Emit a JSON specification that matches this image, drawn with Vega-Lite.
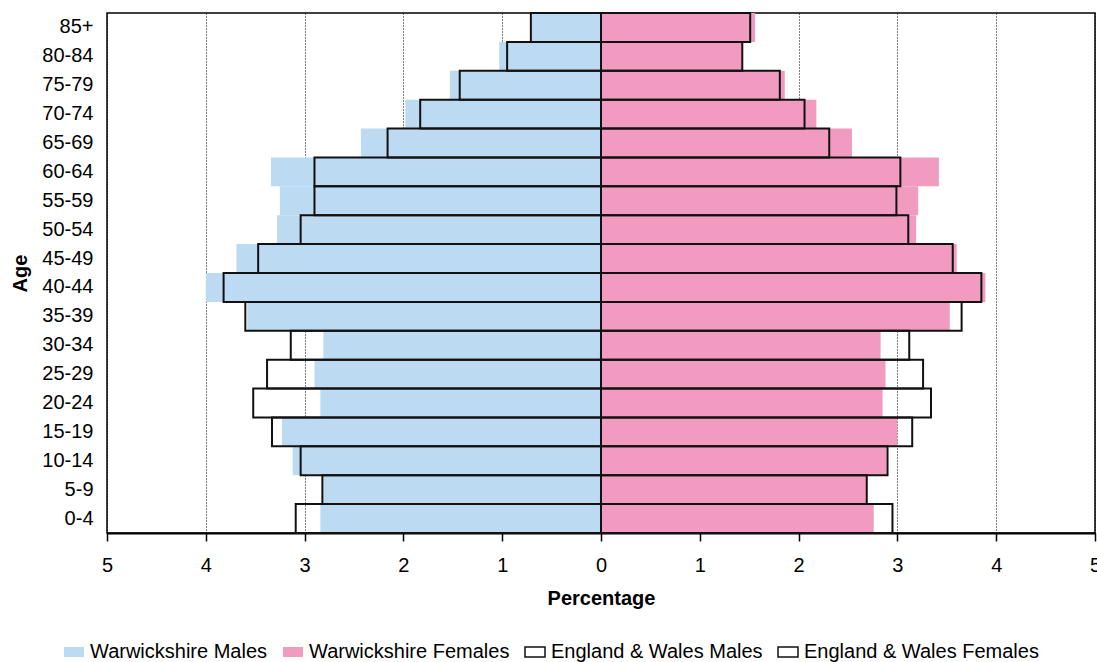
{
  "$schema": "https://vega.github.io/schema/vega-lite/v6.json",
  "autosize": {"type": "none"},
  "width": 988,
  "height": 520,
  "padding": {"left": 107, "top": 13, "right": 2, "bottom": 129},
  "background": "white",
  "config": {
    "view": {"stroke": "black", "strokeWidth": 1.5},
    "font": "Liberation Sans",
    "axis": {"labelFont": "Liberation Sans", "titleFont": "Liberation Sans", "labelFontSize": 20, "titleFontSize": 20, "labelColor": "black", "titleColor": "black", "titleFontWeight": "bold"},
    "legend": {"labelFont": "Liberation Sans", "labelFontSize": 20, "labelColor": "black", "labelLimit": 0}
  },
  "data": {
    "values": [
      {"age": "85+", "series": "Warwickshire Males", "value": -0.71},
      {"age": "80-84", "series": "Warwickshire Males", "value": -1.03},
      {"age": "75-79", "series": "Warwickshire Males", "value": -1.53},
      {"age": "70-74", "series": "Warwickshire Males", "value": -1.98},
      {"age": "65-69", "series": "Warwickshire Males", "value": -2.43},
      {"age": "60-64", "series": "Warwickshire Males", "value": -3.34},
      {"age": "55-59", "series": "Warwickshire Males", "value": -3.25},
      {"age": "50-54", "series": "Warwickshire Males", "value": -3.28},
      {"age": "45-49", "series": "Warwickshire Males", "value": -3.69},
      {"age": "40-44", "series": "Warwickshire Males", "value": -4.0},
      {"age": "35-39", "series": "Warwickshire Males", "value": -3.58},
      {"age": "30-34", "series": "Warwickshire Males", "value": -2.81},
      {"age": "25-29", "series": "Warwickshire Males", "value": -2.9},
      {"age": "20-24", "series": "Warwickshire Males", "value": -2.84},
      {"age": "15-19", "series": "Warwickshire Males", "value": -3.23},
      {"age": "10-14", "series": "Warwickshire Males", "value": -3.12},
      {"age": "5-9", "series": "Warwickshire Males", "value": -2.81},
      {"age": "0-4", "series": "Warwickshire Males", "value": -2.84},
      {"age": "85+", "series": "Warwickshire Females", "value": 1.56},
      {"age": "80-84", "series": "Warwickshire Females", "value": 1.43},
      {"age": "75-79", "series": "Warwickshire Females", "value": 1.86},
      {"age": "70-74", "series": "Warwickshire Females", "value": 2.18},
      {"age": "65-69", "series": "Warwickshire Females", "value": 2.54},
      {"age": "60-64", "series": "Warwickshire Females", "value": 3.42},
      {"age": "55-59", "series": "Warwickshire Females", "value": 3.21},
      {"age": "50-54", "series": "Warwickshire Females", "value": 3.19},
      {"age": "45-49", "series": "Warwickshire Females", "value": 3.6},
      {"age": "40-44", "series": "Warwickshire Females", "value": 3.89},
      {"age": "35-39", "series": "Warwickshire Females", "value": 3.53},
      {"age": "30-34", "series": "Warwickshire Females", "value": 2.83},
      {"age": "25-29", "series": "Warwickshire Females", "value": 2.88},
      {"age": "20-24", "series": "Warwickshire Females", "value": 2.85},
      {"age": "15-19", "series": "Warwickshire Females", "value": 3.0},
      {"age": "10-14", "series": "Warwickshire Females", "value": 2.89},
      {"age": "5-9", "series": "Warwickshire Females", "value": 2.69},
      {"age": "0-4", "series": "Warwickshire Females", "value": 2.76},
      {"age": "85+", "series": "England & Wales Males", "value": -0.71},
      {"age": "80-84", "series": "England & Wales Males", "value": -0.95},
      {"age": "75-79", "series": "England & Wales Males", "value": -1.43},
      {"age": "70-74", "series": "England & Wales Males", "value": -1.83},
      {"age": "65-69", "series": "England & Wales Males", "value": -2.16},
      {"age": "60-64", "series": "England & Wales Males", "value": -2.9},
      {"age": "55-59", "series": "England & Wales Males", "value": -2.9},
      {"age": "50-54", "series": "England & Wales Males", "value": -3.04},
      {"age": "45-49", "series": "England & Wales Males", "value": -3.47},
      {"age": "40-44", "series": "England & Wales Males", "value": -3.82},
      {"age": "35-39", "series": "England & Wales Males", "value": -3.6},
      {"age": "30-34", "series": "England & Wales Males", "value": -3.14},
      {"age": "25-29", "series": "England & Wales Males", "value": -3.38},
      {"age": "20-24", "series": "England & Wales Males", "value": -3.52},
      {"age": "15-19", "series": "England & Wales Males", "value": -3.33},
      {"age": "10-14", "series": "England & Wales Males", "value": -3.04},
      {"age": "5-9", "series": "England & Wales Males", "value": -2.82},
      {"age": "0-4", "series": "England & Wales Males", "value": -3.09},
      {"age": "85+", "series": "England & Wales Females", "value": 1.51},
      {"age": "80-84", "series": "England & Wales Females", "value": 1.43},
      {"age": "75-79", "series": "England & Wales Females", "value": 1.81},
      {"age": "70-74", "series": "England & Wales Females", "value": 2.06},
      {"age": "65-69", "series": "England & Wales Females", "value": 2.31},
      {"age": "60-64", "series": "England & Wales Females", "value": 3.03},
      {"age": "55-59", "series": "England & Wales Females", "value": 2.99},
      {"age": "50-54", "series": "England & Wales Females", "value": 3.11},
      {"age": "45-49", "series": "England & Wales Females", "value": 3.56},
      {"age": "40-44", "series": "England & Wales Females", "value": 3.85},
      {"age": "35-39", "series": "England & Wales Females", "value": 3.65},
      {"age": "30-34", "series": "England & Wales Females", "value": 3.12},
      {"age": "25-29", "series": "England & Wales Females", "value": 3.26},
      {"age": "20-24", "series": "England & Wales Females", "value": 3.34},
      {"age": "15-19", "series": "England & Wales Females", "value": 3.15},
      {"age": "10-14", "series": "England & Wales Females", "value": 2.9},
      {"age": "5-9", "series": "England & Wales Females", "value": 2.69},
      {"age": "0-4", "series": "England & Wales Females", "value": 2.95}
    ]
  },
  "mark": {"type": "bar", "strokeWidth": 2},
  "encoding": {
    "y": {
      "field": "age",
      "type": "nominal",
      "sort": ["85+", "80-84", "75-79", "70-74", "65-69", "60-64", "55-59", "50-54", "45-49", "40-44", "35-39", "30-34", "25-29", "20-24", "15-19", "10-14", "5-9", "0-4"],
      "scale": {"paddingInner": 0, "paddingOuter": 0},
      "axis": {"title": "Age", "ticks": false, "domain": false, "labelPadding": 14, "titleX": -87, "titleY": 260, "titleAngle": -90, "titleAlign": "center", "titleBaseline": "middle"}
    },
    "x": {
      "field": "value",
      "type": "quantitative",
      "stack": null,
      "scale": {"domain": [-5, 5], "nice": false, "zero": false},
      "axis": {
        "title": "Percentage",
        "values": [-5, -4, -3, -2, -1, 0, 1, 2, 3, 4, 5],
        "labelExpr": "abs(datum.value)",
        "tickSize": 8,
        "tickColor": "black",
        "tickWidth": 1.5,
        "labelPadding": 14,
        "titlePadding": 13,
        "domainColor": "black",
        "domainWidth": 2,
        "grid": true,
        "gridColor": "#000",
        "gridDash": [1, 2],
        "gridWidth": 1,
        "labelFlush": false
      }
    },
    "color": {
      "field": "series",
      "type": "nominal",
      "sort": null,
      "scale": {"domain": ["Warwickshire Males", "Warwickshire Females", "England & Wales Males", "England & Wales Females"], "range": ["#bcdaf1", "#f19bc1", "transparent", "transparent"]},
      "legend": {
        "title": null,
        "orient": "none",
        "direction": "horizontal",
        "columns": 4,
        "legendX": -44,
        "legendY": 628,
        "padding": 0,
        "columnPadding": 12,
        "symbolType": "M-1,-0.5H1V0.5H-1Z",
        "symbolSize": 400,
        "symbolStrokeWidth": 1.5,
        "labelOffset": 5,
        "labelLimit": 0,
        "symbolOpacity": 1
      }
    },
    "stroke": {
      "field": "series",
      "type": "nominal",
      "sort": null,
      "scale": {"domain": ["Warwickshire Males", "Warwickshire Females", "England & Wales Males", "England & Wales Females"], "range": ["transparent", "transparent", "#111", "#111"]},
      "legend": {
        "title": null,
        "orient": "none",
        "direction": "horizontal",
        "columns": 4,
        "legendX": -44,
        "legendY": 628,
        "padding": 0,
        "columnPadding": 12,
        "symbolType": "M-1,-0.5H1V0.5H-1Z",
        "symbolSize": 400,
        "symbolStrokeWidth": 1.5,
        "labelOffset": 5,
        "labelLimit": 0
      }
    },
    "opacity": {"value": 1}
  }
}
